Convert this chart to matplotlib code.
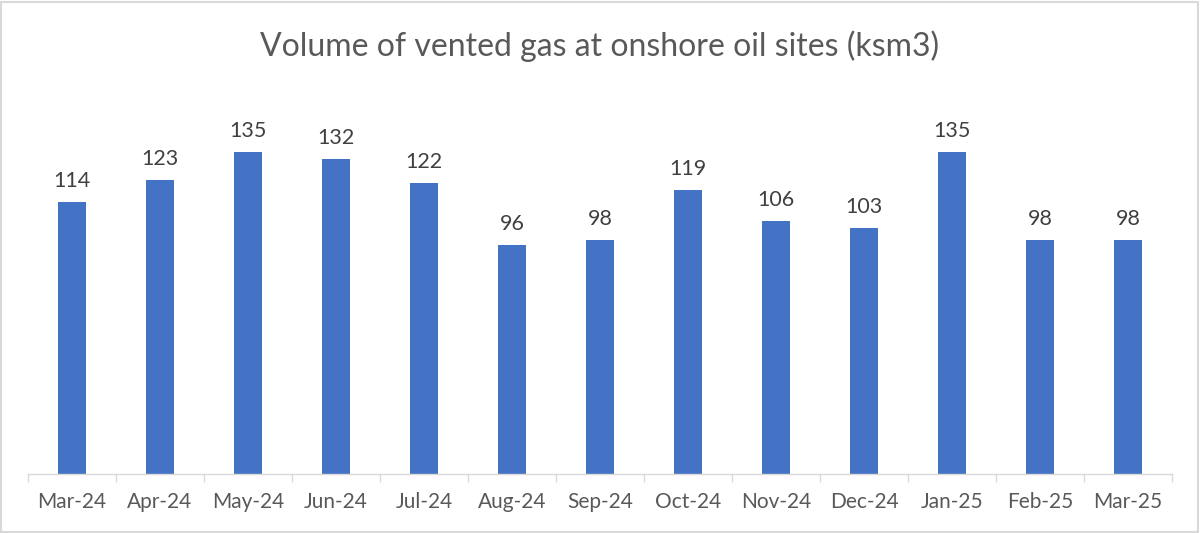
import matplotlib
matplotlib.use("Agg")
import matplotlib.pyplot as plt
from matplotlib.patches import Rectangle
import numpy as np

categories = ["Mar-24", "Apr-24", "May-24", "Jun-24", "Jul-24", "Aug-24", "Sep-24",
              "Oct-24", "Nov-24", "Dec-24", "Jan-25", "Feb-25", "Mar-25"]
values = [114, 123, 135, 132, 122, 96, 98, 119, 106, 103, 135, 98, 98]
title = "Volume of vented gas at onshore oil sites (ksm3)"

plt.rcParams['font.family'] = ['Lato', 'DejaVu Sans']
text_color = "#595959"
bar_color = "#4472C4"

fig = plt.figure(figsize=(12, 5.33), dpi=100)
ax = fig.add_axes([28/1200, 1 - 474/533, (1172 - 28)/1200, (474 - 92)/533])

x = np.arange(len(categories))
bars = ax.bar(x, values, width=0.32, color=bar_color, zorder=2)
for xi, v in zip(x, values):
    ax.annotate(str(v), (xi, v), xytext=(0, 8), textcoords="offset points",
                ha="center", va="bottom", fontsize=15.5, color="#404040")

ax.set_xlim(-0.5, len(categories) - 0.5)
ax.set_ylim(0, 160)
ax.set_yticks([])
ax.set_xticks(x)
ax.set_xticklabels(categories, fontsize=15, color=text_color)
ax.tick_params(axis='x', which='major', length=0, pad=13)
ax.set_xticks(np.arange(-0.5, len(categories), 1), minor=True)
ax.tick_params(axis='x', which='minor', length=6, color="#D9D9D9", width=1)
for s in ["top", "right", "left"]:
    ax.spines[s].set_visible(False)
ax.spines["bottom"].set_color("#D9D9D9")
ax.spines["bottom"].set_linewidth(1)

fig.text(0.5, 1 - 46/533, title, ha="center", va="center", fontsize=23, color=text_color)

fig.patches.append(Rectangle((0.001, 0.001), 0.997, 0.996, transform=fig.transFigure,
                             fill=False, edgecolor="#D9D9D9", linewidth=1.5))

fig.savefig("out.png", dpi=100, facecolor="white")
